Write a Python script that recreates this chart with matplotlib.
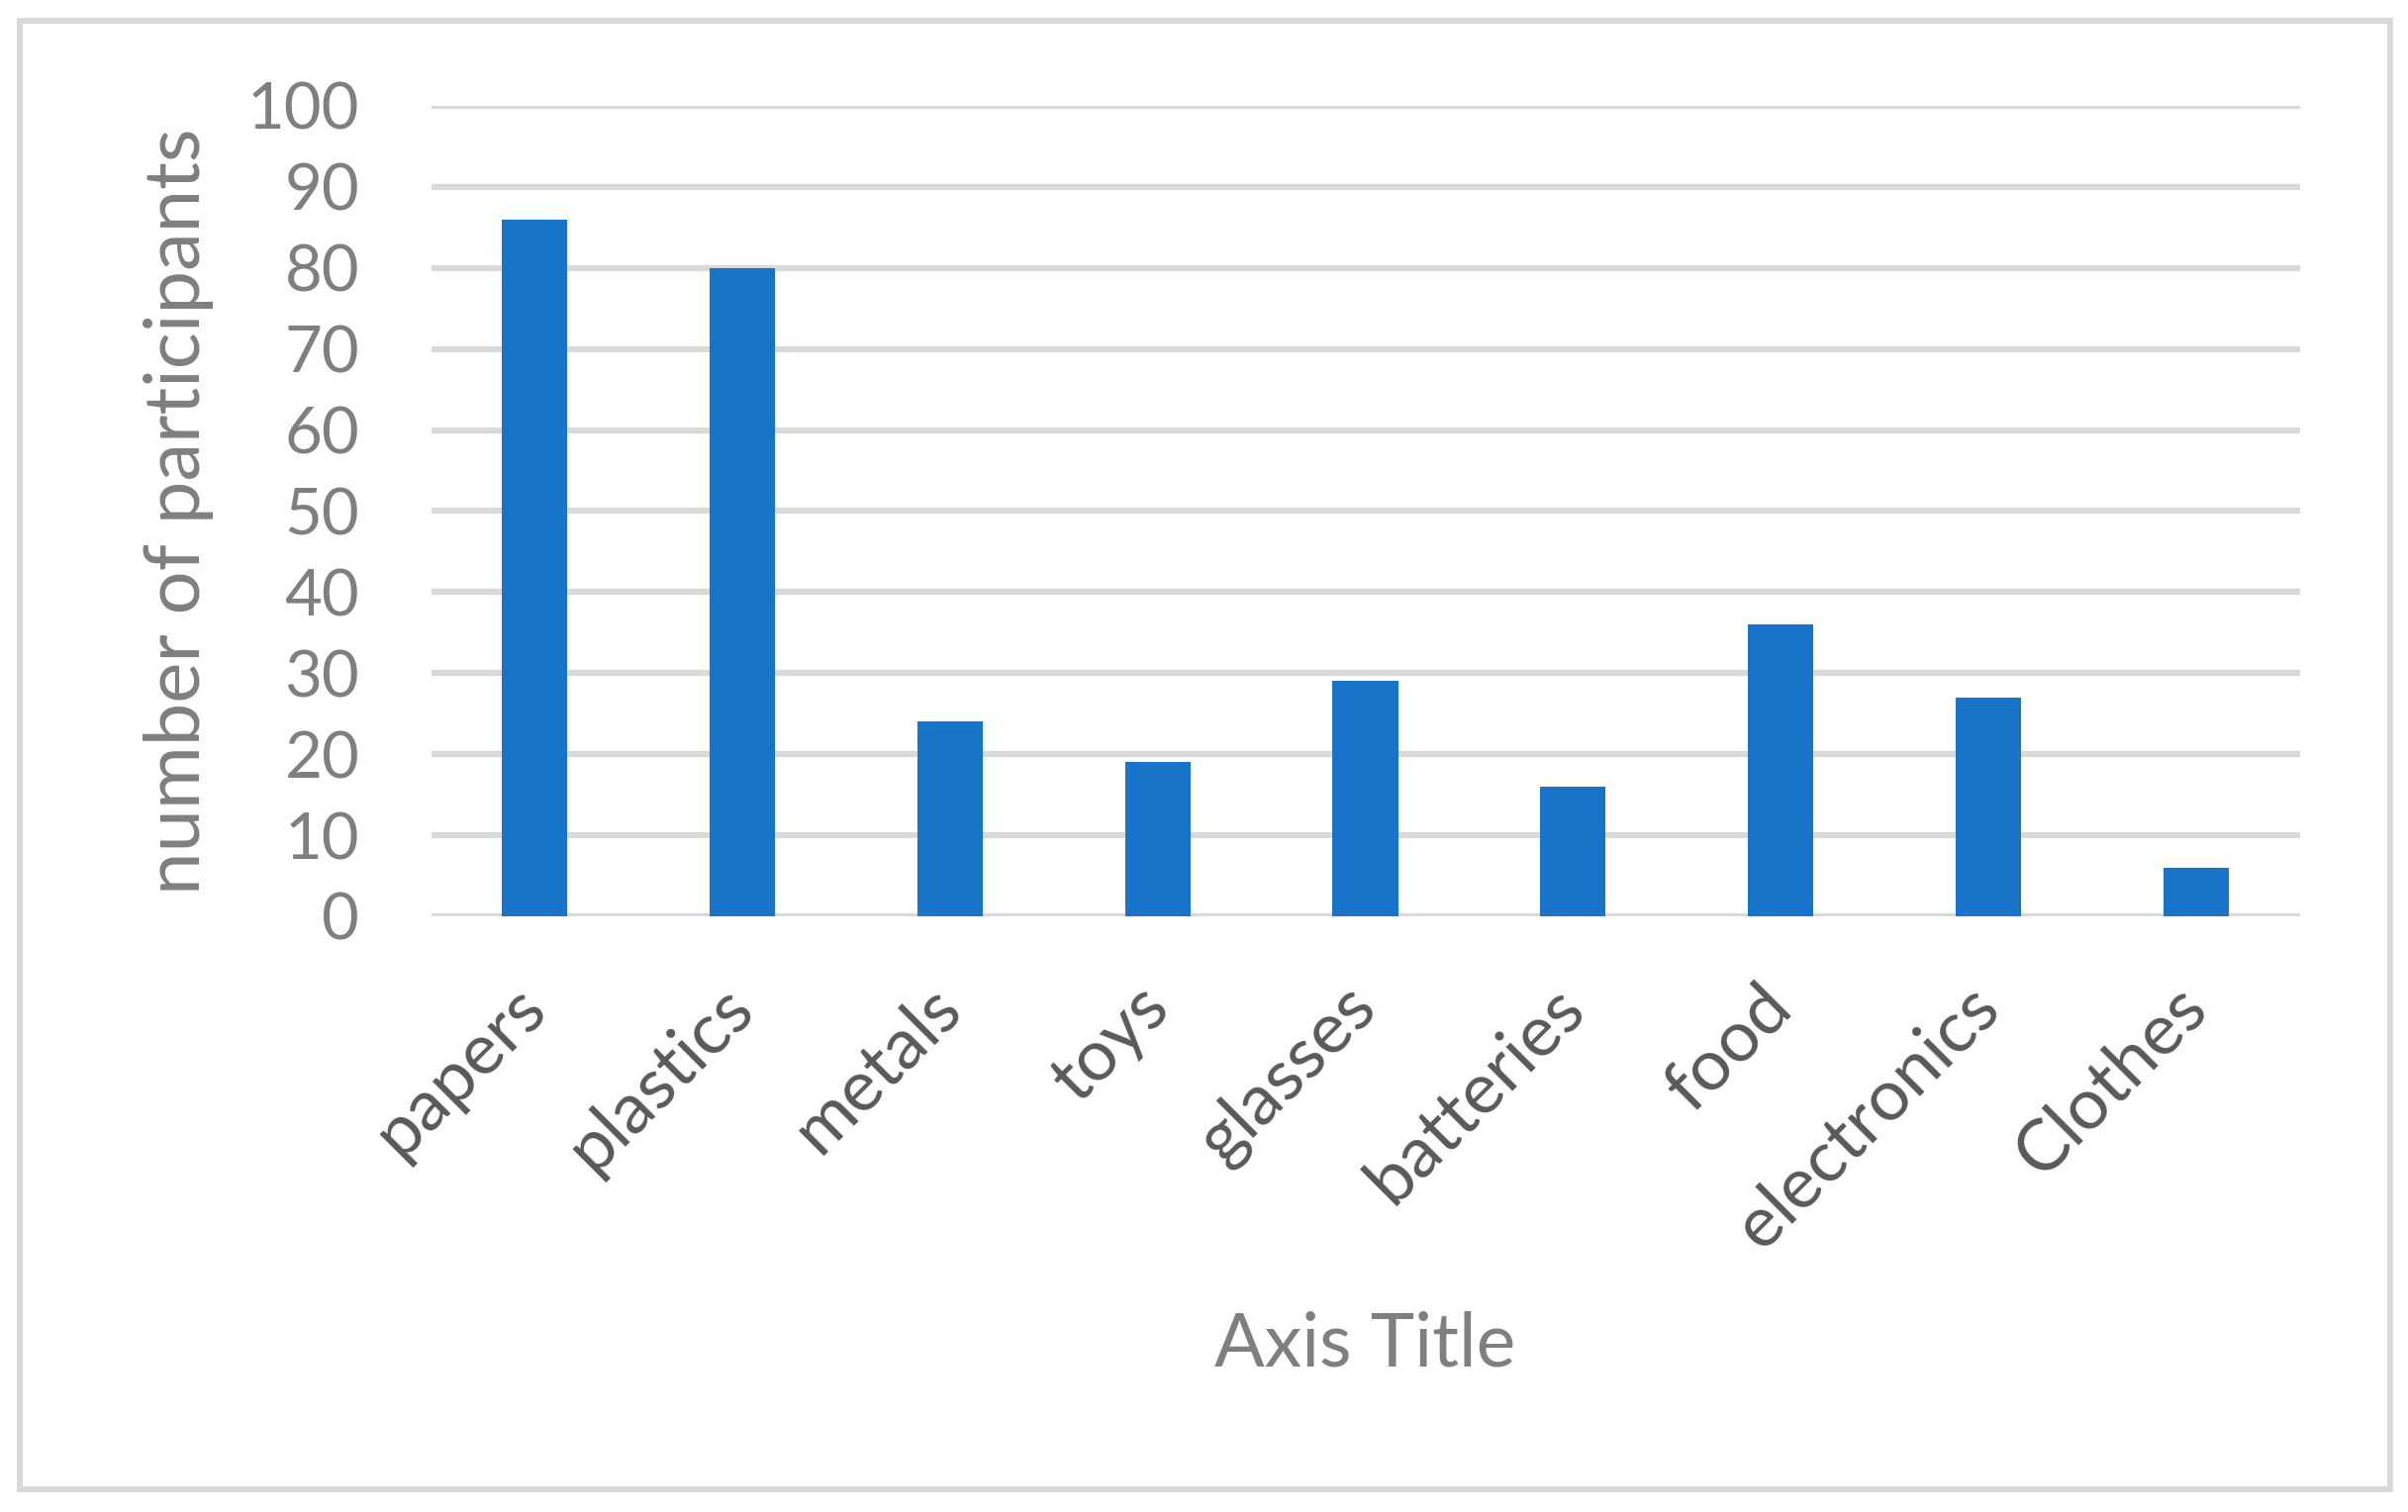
import matplotlib.pyplot as plt
from matplotlib.patches import Rectangle

categories = ['papers', 'plastics', 'metals', 'toys', 'glasses',
              'batteries', 'food', 'electronics', 'Clothes']
participants = [86, 80, 24, 19, 29, 16, 36, 27, 6]
y_ticks = [0, 10, 20, 30, 40, 50, 60, 70, 80, 90, 100]

plt.rcParams['font.family'] = ['Lato', 'DejaVu Sans']

fig = plt.figure(figsize=(24.33, 15.28), dpi=100)
ax = fig.add_axes([0.179, 0.394, 0.776, 0.536])

x = list(range(len(categories)))
ax.bar(x, participants, width=0.315, color='#1874C9', zorder=3)

ax.set_xlim(-0.5, len(categories) - 0.5)
ax.set_ylim(0, 100)
ax.set_yticks(y_ticks)
ax.yaxis.grid(True, color='#d9d9d9', linewidth=4.5, zorder=0)
ax.set_axisbelow(True)
for s in ax.spines.values():
    s.set_visible(False)

ax.tick_params(axis='y', length=0, pad=52, labelsize=47, labelcolor='#7f7f7f')
ax.tick_params(axis='x', length=0, pad=58, labelsize=52, labelcolor='#595959')
ax.set_xticks(x)
ax.set_xticklabels(categories, rotation=45, ha='right', va='center',
                   rotation_mode='anchor')

ax.set_ylabel('number of participants', fontsize=56, color='#7f7f7f')
ax.yaxis.set_label_coords(-0.116, 0.5)
ax.set_xlabel('Axis Title', fontsize=54, color='#7f7f7f')
ax.xaxis.set_label_coords(0.5, -0.486)

# chart area border
fig.patches.append(Rectangle((0.0082, 0.0151), 0.9844, 0.9712,
                             transform=fig.transFigure, fill=False,
                             edgecolor='#d9d9d9', linewidth=4.3))

fig.savefig('out.png', dpi=100, facecolor='white')
